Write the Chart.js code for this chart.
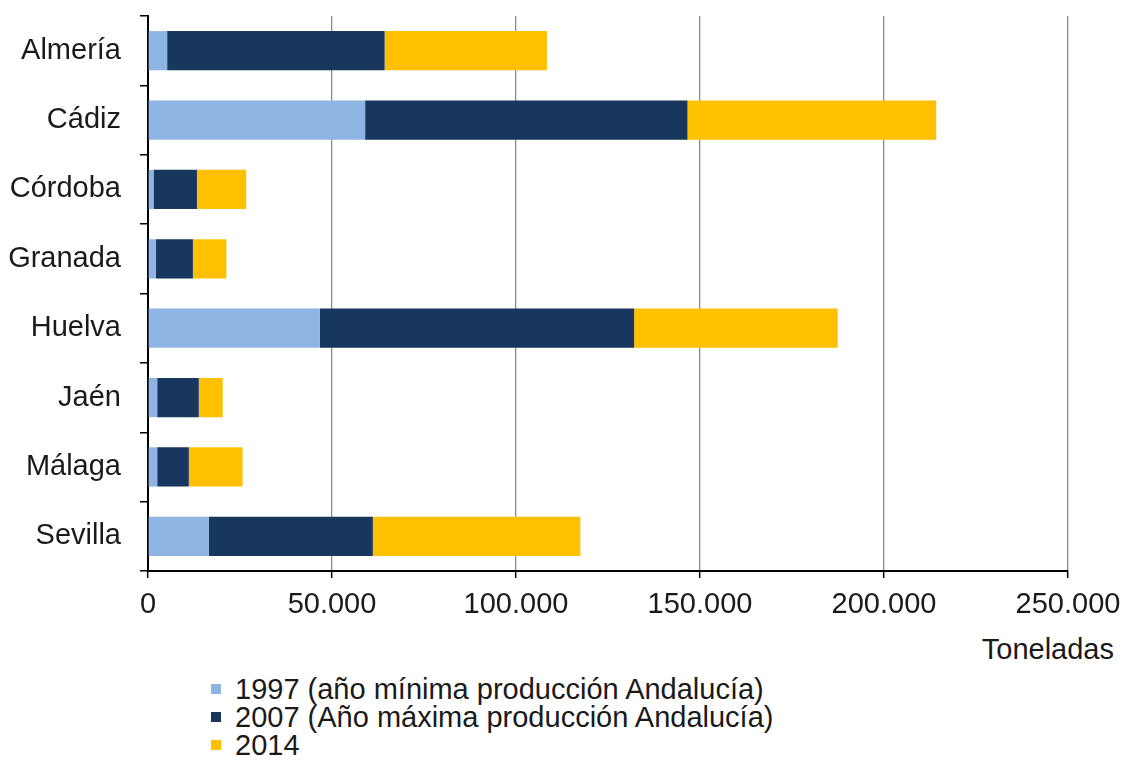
<!DOCTYPE html>
<html>
<head>
<meta charset="utf-8">
<script src="https://cdn.jsdelivr.net/npm/chart.js@4.4.1/dist/chart.umd.min.js"></script>
<style>
body { margin: 0; background: #fff; font-family: "Liberation Sans", Arial, sans-serif; }
#wrap { position: relative; width: 1124px; height: 763px; overflow: hidden; }
#chart { position: absolute; left: 0; top: 0; }
#unit { position: absolute; right: 10px; top: 633px; font-size: 29px; color: #1a1a1a; }
#legend { position: absolute; left: 211px; top: 675px; font-size: 29px; line-height: 28px; color: #1a1a1a; }
.item { display: flex; align-items: center; white-space: nowrap; }
.box { width: 10px; height: 10px; margin-right: 14px; }
</style>
</head>
<body>
<div id="wrap">
  <canvas id="chart" width="1124" height="630"></canvas>
  <div id="unit">Toneladas</div>
  <div id="legend"></div>
</div>
<script>
// provinces
const provinces = ['Almería', 'Cádiz', 'Córdoba', 'Granada', 'Huelva', 'Jaén', 'Málaga', 'Sevilla'];

// stacked values in tonnes
const values1997 = [5200, 59000, 1500, 2100, 46700, 2500, 2500, 16500];
const values2007 = [59100, 87600, 11800, 10100, 85400, 11300, 8600, 44600];
const values2014 = [44100, 67600, 13400, 9100, 55300, 6500, 14600, 56400];

const seriesLabels = [
    '1997 (año mínima producción Andalucía)',
    '2007 (Año máxima producción Andalucía)',
    '2014'
];
const seriesColors = ['#8EB4E3', '#17375E', '#FFC000'];

const xTicks = [0, 50000, 100000, 150000, 200000, 250000];

function formatThousands(v) {
    return String(v).replace(/\B(?=(\d{3})+(?!\d))/g, '.');
}

const seriesData = [values1997, values2007, values2014];
const datasets = seriesData.map((d, i) => ({
    label: seriesLabels[i],
    data: d,
    backgroundColor: seriesColors[i],
    borderWidth: 0,
    barPercentage: 0.565,
    categoryPercentage: 1
}));

const ctx = document.querySelector('#chart').getContext('2d');
new Chart(ctx, {
    type: 'bar',
    data: {
        labels: provinces,
        datasets: datasets
    },
    options: {
        indexAxis: 'y',
        responsive: false,
        animation: false,
        layout: { padding: { top: 16, right: 56, bottom: 0, left: 0 } },
        plugins: {
            legend: { display: false },
            tooltip: { enabled: false }
        },
        scales: {
            x: {
                stacked: true,
                min: 0,
                max: 250000,
                afterBuildTicks: (scale) => {
                    scale.ticks = xTicks.map(v => ({ value: v }));
                },
                afterFit: (scale) => {
                    scale.height = 59;
                    scale.paddingLeft = 0;
                    scale.paddingRight = 0;
                },
                grid: {
                    color: (c) => c.tick && c.tick.value === 0 ? 'rgba(0,0,0,0)' : '#8c8c8c',
                    lineWidth: 1.3,
                    tickColor: '#000',
                    tickLength: 7,
                    tickWidth: 1.5
                },
                border: { color: '#000', width: 2 },
                ticks: {
                    color: '#1a1a1a',
                    padding: 10,
                    maxRotation: 0,
                    font: { family: '"Liberation Sans", Arial, sans-serif', size: 29 },
                    callback: (v) => formatThousands(v)
                }
            },
            y: {
                stacked: true,
                afterFit: (scale) => {
                    scale.width = 148;
                    scale.paddingTop = 0;
                    scale.paddingBottom = 0;
                },
                grid: {
                    offset: true,
                    drawOnChartArea: false,
                    color: '#000',
                    tickLength: 8,
                    lineWidth: 1.5
                },
                border: { color: '#000', width: 2 },
                ticks: {
                    color: '#1a1a1a',
                    padding: 19,
                    font: { family: '"Liberation Sans", Arial, sans-serif', size: 29 }
                }
            }
        }
    }
});

// legend below the chart
const legend = document.querySelector('#legend');
seriesLabels.forEach((label, i) => {
    const item = document.createElement('div');
    item.className = 'item';
    const box = document.createElement('span');
    box.className = 'box';
    box.style.background = seriesColors[i];
    const text = document.createElement('span');
    text.textContent = label;
    item.appendChild(box);
    item.appendChild(text);
    legend.appendChild(item);
});
</script>
</body>
</html>
